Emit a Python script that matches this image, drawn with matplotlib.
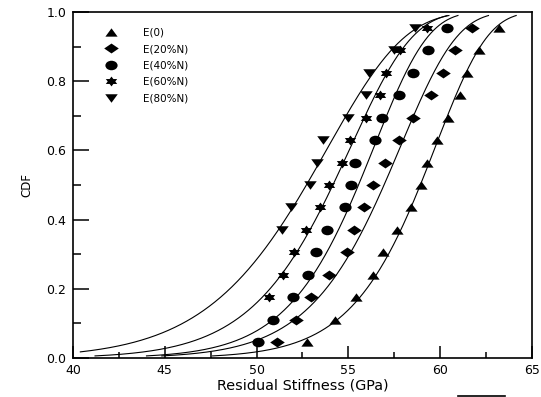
"""Weibull CDF of residual stiffness for the five loading levels.

Median-rank points for each specimen set, with the fitted two-parameter
Weibull curve drawn through each set. Writes out.png.
"""

import numpy as np
import matplotlib

matplotlib.use("Agg")
import matplotlib.pyplot as plt
from matplotlib.lines import Line2D
from matplotlib.path import Path
from matplotlib.transforms import Affine2D
from matplotlib.ticker import MultipleLocator, FormatStrFormatter

plt.rcParams["font.family"] = ["DejaVu Sans"]

# median ranks (i - 0.3) / (n + 0.4) for n = 15
cdf_levels = [0.045, 0.110, 0.175, 0.240, 0.305, 0.370, 0.435, 0.500,
              0.565, 0.630, 0.695, 0.760, 0.825, 0.890, 0.955]

# residual stiffness (GPa), sorted, one list per loading level
e_0 = [52.76, 54.27, 55.41, 56.36, 56.87, 57.63, 58.41, 58.94,
       59.26, 59.84, 60.45, 61.08, 61.48, 62.11, 63.20]
e_20 = [51.13, 52.13, 52.95, 53.96, 54.91, 55.30, 55.87, 56.36,
        56.99, 57.77, 58.52, 59.50, 60.15, 60.81, 61.72]
e_40 = [50.09, 50.91, 52.00, 52.82, 53.24, 53.85, 54.81, 55.14,
        55.36, 56.45, 56.81, 57.75, 58.52, 59.34, 60.37]
e_60 = [50.69, 51.45, 52.04, 52.69, 53.45, 53.96, 54.65, 55.09,
        55.96, 56.72, 57.05, 57.81, 59.26]          # ranks 3..15
e_80 = [51.38, 51.87, 52.91, 53.29, 53.62, 54.98, 55.96, 56.12,
        57.48, 58.63]                               # ranks 6..15

labels = ["E(0)", "E(20%N)", "E(40%N)", "E(60%N)", "E(80%N)"]
samples = [e_0, e_20, e_40, e_60, e_80]
ranks = [cdf_levels, cdf_levels, cdf_levels, cdf_levels[2:], cdf_levels[5:]]


def _closed(verts):
    v = np.asarray(verts, float)
    return Path(np.vstack([v, v[:1]]), closed=True)


SQ = 0.68  # markers are drawn a bit flatter than tall
tri_up = _closed([(0, SQ), (-1, -SQ), (1, -SQ)])
tri_down = _closed([(0, -SQ), (-1, SQ), (1, SQ)])
diamond = _closed([(0, SQ), (-1, 0), (0, -SQ), (1, 0)])
ellipse = Affine2D().scale(1, 0.78).transform_path(Path.unit_circle())
_ang = np.deg2rad(90 + 30 * np.arange(12))
_rad = np.where(np.arange(12) % 2 == 0, 1.0, 1 / np.sqrt(3))
hexagram = _closed(np.column_stack([_rad * np.cos(_ang), 0.75 * _rad * np.sin(_ang)]))

markers = [tri_up, diamond, ellipse, hexagram, tri_down]
msizes = [8.8, 10.5, 8.8, 8.2, 9.0]


def weibull_fit(x, f):
    """Median-rank regression: ln(-ln(1-F)) = beta*ln(x) - beta*ln(eta)."""
    beta, c = np.polyfit(np.log(x), np.log(-np.log(1 - np.asarray(f))), 1)
    return beta, np.exp(-c / beta)


fig = plt.figure(figsize=(5.41, 3.97), dpi=100)
ax = fig.add_axes([73 / 541, 39 / 397, 459 / 541, 346 / 397])

xs = np.linspace(40.4, 65, 800)
for x, f, mk, ms in zip(samples, ranks, markers, msizes):
    beta, eta = weibull_fit(x, f)
    cdf = 1 - np.exp(-(xs / eta) ** beta)
    keep = (cdf >= 0.006) & (cdf <= 0.99)
    ax.plot(xs[keep], cdf[keep], color="black", lw=0.8)
    ax.plot(x, f, ls="none", marker=mk, ms=ms, color="black", mew=0)

handles = [Line2D([], [], ls="none", marker=mk, ms=ms, color="black", mew=0)
           for mk, ms in zip(markers, msizes)]
ax.legend(handles, labels, loc="upper left", bbox_to_anchor=(0.0595, 0.955),
          frameon=False, fontsize=7.5, handlelength=2.0, handletextpad=2.1,
          labelspacing=0.62, borderpad=0, borderaxespad=0, numpoints=1)

ax.set_xlim(40, 65)
ax.set_ylim(0, 1.0)
ax.xaxis.set_major_locator(MultipleLocator(5))
ax.xaxis.set_minor_locator(MultipleLocator(2.5))
ax.yaxis.set_major_locator(MultipleLocator(0.2))
ax.yaxis.set_minor_locator(MultipleLocator(0.1))
ax.yaxis.set_major_formatter(FormatStrFormatter("%.1f"))

ax.tick_params(which="both", direction="in", top=False, right=False,
               width=1.1, labelsize=9)
ax.tick_params(axis="x", which="major", length=8.3, pad=4.5)
ax.tick_params(axis="x", which="minor", length=4.0)
ax.tick_params(axis="y", which="major", length=11.5, pad=5)
ax.tick_params(axis="y", which="minor", length=6.0)
for sp in ax.spines.values():
    sp.set_linewidth(1.2)

ax.set_xlabel("Residual Stiffness (GPa)", fontsize=10.4, labelpad=1)
ax.set_ylabel("CDF", fontsize=8.5, labelpad=9)

# short rule left over from the caption line below the plot
fig.add_artist(Line2D([458 / 541, 505 / 541], [1.5 / 397, 1.5 / 397],
                      transform=fig.transFigure, color="black", lw=1.2))

fig.savefig("out.png", dpi=100)
